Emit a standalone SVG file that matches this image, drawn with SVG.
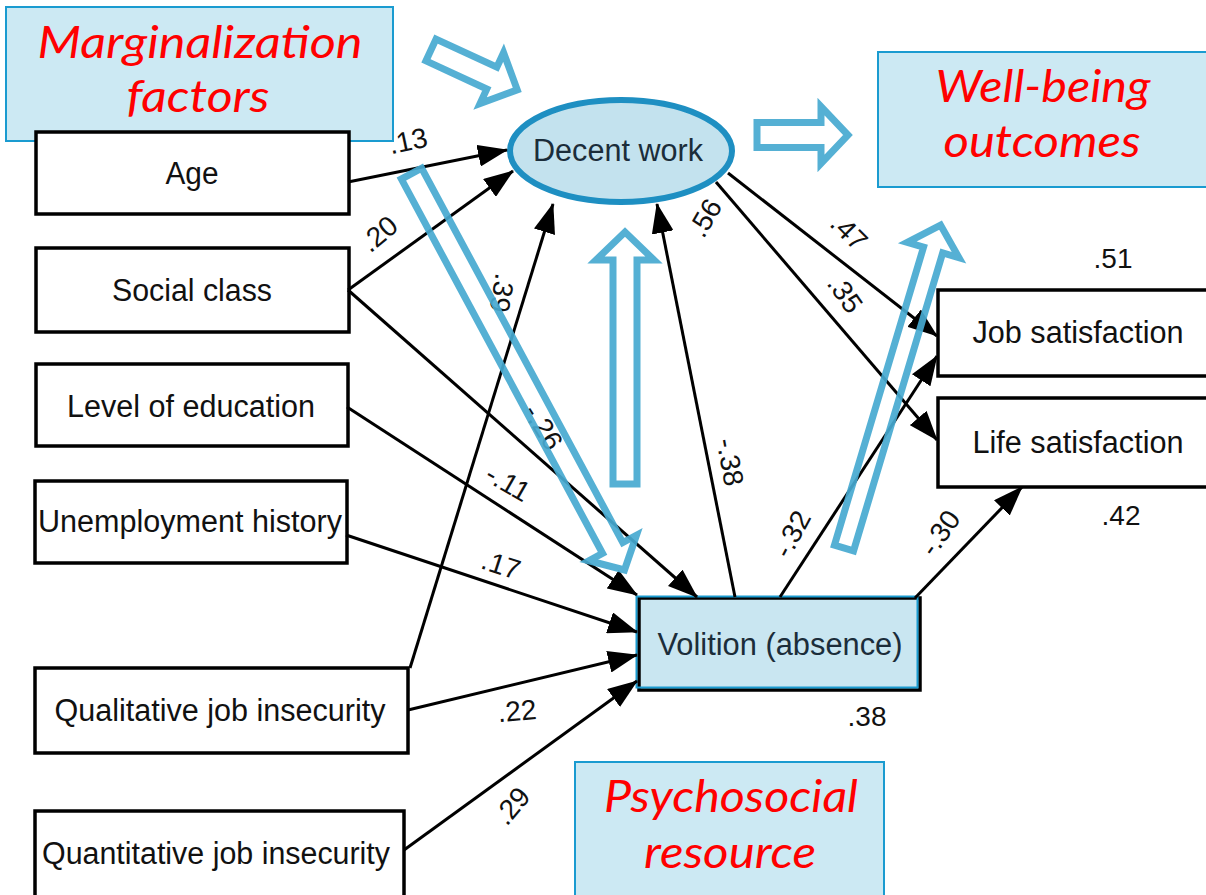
<svg xmlns="http://www.w3.org/2000/svg" width="1206" height="895" viewBox="0 0 1206 895">
<defs>
<marker id="ah" markerUnits="userSpaceOnUse" markerWidth="30" markerHeight="22" viewBox="0 0 30 22" refX="29" refY="11" orient="auto"><path d="M0,0L30,11L0,22z" fill="#000"/></marker>
<style>
.bx{fill:#fff;stroke:#000;stroke-width:3.5}
.cat{fill:#cce9f3;stroke:#1a9bd0;stroke-width:2}
.nt{font-family:"Liberation Sans",Arial,sans-serif;font-size:31px;fill:#111;text-anchor:middle;dominant-baseline:central}
.rt{font-family:Lato,"Liberation Sans",sans-serif;font-style:italic;font-size:45px;fill:#ff0000;text-anchor:middle}
.lb{font-family:"Liberation Sans",Arial,sans-serif;font-size:28px;fill:#111;text-anchor:middle;dominant-baseline:central}
.ln{stroke:#000;stroke-width:3;fill:none;marker-end:url(#ah)}
.ba{fill:none;stroke:#47a9d0;stroke-width:7;stroke-opacity:0.92;stroke-linejoin:miter}
</style>
</defs>
<rect width="1206" height="895" fill="#fff"/>

<g id="marginalization">
<rect class="cat" x="6" y="7" width="387" height="134"/>
<text class="rt" x="200" y="58" textLength="325" lengthAdjust="spacingAndGlyphs">Marginalization</text>
<text class="rt" x="198" y="112" textLength="143" lengthAdjust="spacingAndGlyphs">factors</text>
</g>

<g id="age"><rect class="bx" x="36" y="132" width="313" height="82"/><text class="nt" x="192" y="173" textLength="53" lengthAdjust="spacingAndGlyphs">Age</text></g>
<g id="social"><rect class="bx" x="36" y="248" width="313" height="84"/><text class="nt" x="192" y="290" textLength="160" lengthAdjust="spacingAndGlyphs">Social class</text></g>
<g id="education"><rect class="bx" x="36" y="364" width="312" height="82"/><text class="nt" x="191" y="406" textLength="248" lengthAdjust="spacingAndGlyphs">Level of education</text></g>
<g id="unemployment"><rect class="bx" x="35" y="481" width="312" height="82"/><text class="nt" x="190" y="521" textLength="304" lengthAdjust="spacingAndGlyphs">Unemployment history</text></g>
<g id="qualitative"><rect class="bx" x="35" y="668" width="373" height="85"/><text class="nt" x="220" y="710" textLength="331" lengthAdjust="spacingAndGlyphs">Qualitative job insecurity</text></g>
<g id="quantitative"><rect class="bx" x="35" y="811" width="369" height="90"/><text class="nt" x="216" y="853" textLength="348" lengthAdjust="spacingAndGlyphs">Quantitative job insecurity</text></g>

<g id="decent-work"><ellipse cx="621" cy="151" rx="111" ry="51" fill="#c3e2ee" stroke="#1e8fc2" stroke-width="6"/><text class="nt" x="618" y="150" style="fill:#1b2d3a" textLength="170" lengthAdjust="spacingAndGlyphs">Decent work</text></g>

<g id="well-being">
<rect class="cat" x="878" y="52" width="330" height="135"/>
<text class="rt" x="1043" y="102" textLength="215" lengthAdjust="spacingAndGlyphs">Well-being</text>
<text class="rt" x="1042" y="157" textLength="197" lengthAdjust="spacingAndGlyphs">outcomes</text>
</g>

<g id="job-satisfaction"><rect class="bx" x="938" y="290" width="272" height="86"/><text class="nt" x="1078" y="332" textLength="211" lengthAdjust="spacingAndGlyphs">Job satisfaction</text><text class="lb" x="1113" y="258">.51</text></g>
<g id="life-satisfaction"><rect class="bx" x="938" y="398" width="272" height="89"/><text class="nt" x="1078" y="442" textLength="211" lengthAdjust="spacingAndGlyphs">Life satisfaction</text><text class="lb" x="1121" y="515">.42</text></g>

<g id="volition">
<rect x="639" y="598" width="281" height="92" fill="#c9e6f1" stroke="#000" stroke-width="3.5"/>
<rect x="636.5" y="596.5" width="281" height="91" fill="none" stroke="#1a9bd0" stroke-width="2"/>
<text class="nt" x="780" y="644" style="fill:#1b2d3a" textLength="245" lengthAdjust="spacingAndGlyphs">Volition (absence)</text>
<text class="lb" x="867" y="716">.38</text>
</g>

<g id="psychosocial">
<rect class="cat" x="575" y="762" width="309" height="140"/>
<text class="rt" x="731" y="812" textLength="254" lengthAdjust="spacingAndGlyphs">Psychosocial</text>
<text class="rt" x="730" y="868" textLength="172" lengthAdjust="spacingAndGlyphs">resource</text>
</g>

<g id="connectors">
<line class="ln" x1="348" y1="182" x2="507" y2="150"/>
<line class="ln" x1="348" y1="290" x2="513" y2="171"/>
<line class="ln" x1="348" y1="290" x2="697" y2="597"/>
<line class="ln" x1="347" y1="407" x2="637" y2="595"/>
<line class="ln" x1="346" y1="535" x2="637" y2="632"/>
<line class="ln" x1="408" y1="710" x2="637" y2="655"/>
<line class="ln" x1="404" y1="850" x2="637" y2="681"/>
<line class="ln" x1="410" y1="668" x2="553" y2="204"/>
<line class="ln" x1="735" y1="597" x2="657" y2="204"/>
<line class="ln" x1="728" y1="173" x2="937" y2="336"/>
<line class="ln" x1="716" y1="182" x2="937" y2="440"/>
<line class="ln" x1="780" y1="597" x2="937" y2="356"/>
<line class="ln" x1="915" y1="598" x2="1022" y2="487"/>
<text class="lb" transform="translate(408,141) rotate(-12)">.13</text>
<text class="lb" transform="translate(379,234) rotate(-40)">.20</text>
<text class="lb" transform="translate(502,293) rotate(100)">.39</text>
<text class="lb" transform="translate(543,427) rotate(58)">-.26</text>
<text class="lb" transform="translate(508,483) rotate(30)">-.11</text>
<text class="lb" transform="translate(501,565) rotate(18)">.17</text>
<text class="lb" transform="translate(517,711) rotate(-5)">.22</text>
<text class="lb" transform="translate(512,806) rotate(-50)">.29</text>
<text class="lb" transform="translate(705,218) rotate(-60)">.56</text>
<text class="lb" transform="translate(730,462) rotate(80)">-.38</text>
<text class="lb" transform="translate(849,232) rotate(45)">.47</text>
<text class="lb" transform="translate(845,294) rotate(55)">.35</text>
<text class="lb" transform="translate(792,534) rotate(-62)">-.32</text>
<text class="lb" transform="translate(940,533) rotate(-55)">-.30</text>
</g>

<g id="block-arrows">
<polygon class="ba" transform="translate(431,50) rotate(24.8)" points="0,-12 67,-12 67,-28 95,0 67,28 67,12 0,12"/>
<polygon class="ba" transform="translate(757,135) rotate(0)" points="0,-12.5 64,-12.5 64,-28.5 91,0 64,28.5 64,12.5 0,12.5"/>
<polygon class="ba" transform="translate(411.5,173.6) rotate(61.75)" points="0,-11.5 425,-11.5 425,-27 450,0 425,27 425,11.5 0,11.5"/>
<polygon class="ba" transform="translate(625,484) rotate(-90)" points="0,-12 224,-12 224,-29 252,0 224,29 224,12 0,12"/>
<polygon class="ba" transform="translate(844,548) rotate(-73.35)" points="0,-10 311,-10 311,-27 337,0 311,27 311,10 0,10"/>
</g>
</svg>
